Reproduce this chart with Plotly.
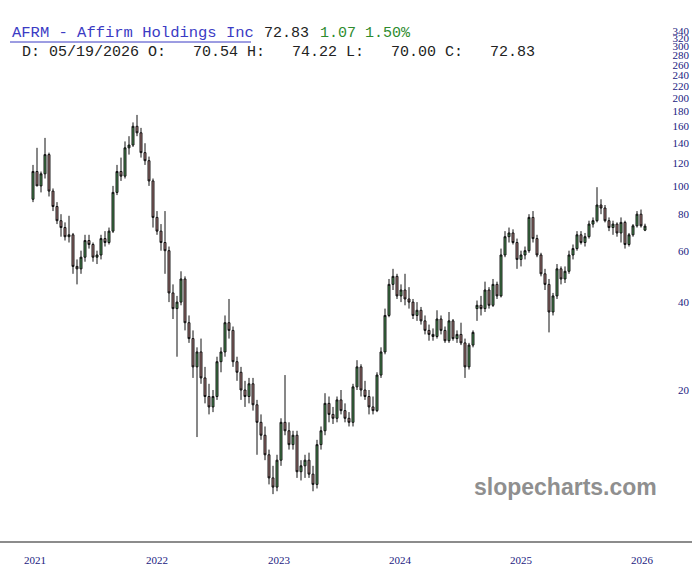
import plotly.graph_objects as go

# Weekly-ish OHLC readings (index-based x, one candle per bar)
opens = [90, 112, 100, 110, 128, 96, 85, 76, 72, 67,
         68, 53, 52, 57, 65, 63, 57, 58, 66, 64,
         70, 95, 112, 108, 135, 138, 160, 152, 130, 122,
         104, 78, 70, 64, 60, 43, 38, 40, 48, 34,
         30, 24, 27, 22, 19, 17.5, 19, 25, 27, 34,
         32, 25, 23, 20, 19, 21, 17.8, 15.5, 14, 12,
         10, 9.3, 11.5, 15.5, 14.5, 13, 14, 10.5, 11, 11.5,
         10.3, 9.5, 13, 14.5, 18, 16.5, 16, 18.5, 17, 16,
         15.5, 20.5, 24, 20, 19, 17.5, 17, 22.5, 27, 36,
         46, 49, 42, 44, 41, 40, 36, 37.5, 34.5, 32,
         31, 30.5, 35, 32, 29.5, 34.5, 30, 31, 29, 24,
         28.5, 38, 39, 38, 44, 39, 46, 42, 58, 67,
         69, 64, 56, 58, 60, 78, 66, 58, 50, 46,
         37, 42, 52, 48, 51, 58, 61, 68, 64, 67,
         74, 76, 86, 84, 76, 72, 74, 69, 75, 63,
         68, 73, 80, 70.54]
highs = [118, 135, 112, 146, 130, 98, 88, 80, 75, 79,
         69, 56, 60, 68, 68, 64, 60, 68, 70, 72,
         100, 118, 125, 142, 148, 165, 175, 158, 140, 126,
         106, 82, 74, 82, 62, 46, 42, 51, 49, 36,
         32, 28, 30, 24, 21, 20, 26, 28, 36, 41,
         33, 26, 24, 21.5, 22, 22, 18.5, 16.5, 15, 12.5,
         11, 12, 16, 22.5, 15.5, 14.5, 14.5, 11.5, 12, 12.2,
         11, 13.5, 15, 19.5, 19, 17.5, 19, 20, 18, 16.8,
         21, 25.3, 24.5, 21.5, 20, 19, 23, 28, 38, 48,
         52, 50, 46, 50, 45, 41, 40, 38.5, 36, 33.5,
         32.5, 37.5, 36, 33, 37, 35, 32, 34, 30, 29,
         32, 40.5, 42, 47, 45, 48, 47, 61, 70, 72,
         71, 66, 60, 62, 80, 82, 68, 59, 52, 48,
         43, 54, 53, 53, 60, 63, 70, 70, 69, 76,
         78, 99, 90, 86, 78, 76, 75, 78, 76, 69,
         74, 82, 83, 74.22]
lows = [88, 100, 95, 106, 92, 82, 74, 67, 65, 64,
        50, 46, 50, 55, 61, 55, 54, 56, 62, 63,
        69, 93, 104, 106, 128, 136, 148, 125, 118, 100,
        72, 68, 60, 50, 40, 35, 26, 39, 32, 29,
        22, 13.8, 21, 18, 16.5, 16.8, 18.5, 23, 26, 30,
        24, 21.5, 18.5, 17.5, 18, 17, 12, 13.5, 11.5, 9.5,
        8.8, 9, 11, 14, 12.5, 12.5, 10, 9.8, 10, 10,
        9, 9.2, 12.5, 14, 15.5, 15.3, 15.5, 16.5, 15.5, 15,
        15, 20, 19, 18.5, 16.5, 16.5, 16.8, 22, 26.5, 35.5,
        44, 41, 40, 39, 38, 35, 34.5, 33.5, 31, 29.5,
        29.5, 30, 31, 29, 29, 29.5, 29, 28.5, 22, 23.5,
        28, 34.5, 36, 37, 38, 38.5, 41, 41.5, 57, 64,
        63, 52, 53, 56, 59, 64, 57, 49, 44, 31.5,
        36, 41, 46, 46.5, 50, 56, 60, 63, 62, 66,
        72, 75, 80, 75, 70, 68, 67, 64, 61, 62,
        67, 72, 72, 70.00]
closes = [112, 100, 110, 128, 96, 85, 76, 72, 67, 68,
          53, 52, 57, 65, 63, 57, 58, 66, 64, 70,
          95, 112, 108, 135, 138, 160, 152, 130, 122, 104,
          78, 70, 64, 60, 43, 38, 40, 48, 34, 30,
          24, 27, 22, 19, 17.5, 19, 25, 27, 34, 32,
          25, 23, 20, 19, 21, 17.8, 15.5, 14, 12, 10,
          9.3, 11.5, 15.5, 14.5, 13, 14, 10.5, 11, 11.5, 10.3,
          9.5, 13, 14.5, 18, 16.5, 16, 18.5, 17, 16, 15.5,
          20.5, 24, 20, 19, 17.5, 17, 22.5, 27, 36, 46,
          49, 42, 44, 41, 40, 36, 37.5, 34.5, 32, 31,
          30.5, 35, 32, 29.5, 34.5, 30, 31, 29, 24, 28.5,
          31.5, 39, 38, 44, 39, 46, 42, 58, 67, 69,
          64, 56, 58, 60, 78, 66, 58, 50, 46, 37,
          42, 52, 48, 51, 58, 61, 68, 64, 67, 74,
          76, 86, 84, 76, 72, 74, 69, 75, 63, 68,
          73, 80, 73, 72.83]

year_labels = ["2021", "2022", "2023", "2024", "2025", "2026"]
year_positions = [0.5, 31, 61.5, 91.75, 122, 152.25]   # bar index where each year label sits
price_ticks = [20, 40, 60, 80, 100, 120, 140, 160, 180, 200,
               220, 240, 260, 280, 300, 320, 340]

idx = list(range(len(closes)))

fig = go.Figure()
fig.add_trace(go.Candlestick(
    x=idx, open=opens, high=highs, low=lows, close=closes,
    increasing=dict(line=dict(color="#111111", width=1), fillcolor="#4f9f5a"),
    decreasing=dict(line=dict(color="#111111", width=1), fillcolor="#b98585"),
    whiskerwidth=0, showlegend=False, hoverinfo="skip",
))

W, H = 692, 581
bottom = 541
fig.update_layout(
    width=W, height=H,
    margin=dict(l=0, r=0, t=0, b=H - bottom),
    paper_bgcolor="white", plot_bgcolor="white",
    xaxis=dict(
        range=[-8.25, 164.75], rangeslider=dict(visible=False),
        tickmode="array", tickvals=year_positions, ticktext=year_labels,
        showgrid=False, zeroline=False, ticks="",
        showline=True, linecolor="#8c8c8c", linewidth=2,
        tickfont=dict(family="Liberation Serif", size=11, color="#1a1a80"),
        ticklabelstandoff=8,
    ),
    yaxis=dict(
        type="log", side="right", range=[0.78391, 2.63665],
        tickmode="array", tickvals=price_ticks, ticktext=[str(v) for v in price_ticks],
        ticklabelposition="inside", ticks="",
        showgrid=False, zeroline=False, showline=False,
        tickfont=dict(family="Liberation Serif", size=11, color="#1a1a80"),
    ),
)

def px_x(p):
    return p / W

def px_y(p):
    return (bottom - p) / bottom

mono = "Liberation Mono"
header_parts = [
    ("AFRM - Affirm Holdings Inc", 10, "#3b3bc4", 15.5),
    ("72.83", 262, "#222222", 15),
    ("1.07 1.50%", 318, "#2e8b2e", 15),
]
for txt, xpos, col, fs in header_parts:
    fig.add_annotation(
        xref="paper", yref="paper", x=px_x(xpos), y=px_y(33), xanchor="left", yanchor="middle",
        showarrow=False, text=txt.replace(" ", "\u00a0"),
        font=dict(family=mono, size=fs, color=col),
    )
fig.add_annotation(
    xref="paper", yref="paper", x=px_x(11), y=px_y(52), xanchor="left", yanchor="middle",
    showarrow=False,
    text="\u00a0D:\u00a005/19/2026\u00a0O:\u00a0\u00a0\u00a070.54\u00a0H:\u00a0\u00a0\u00a074.22\u00a0L:\u00a0\u00a0\u00a070.00\u00a0C:\u00a0\u00a0\u00a072.83",
    font=dict(family=mono, size=15, color="#222222"),
)
fig.add_shape(type="line", xref="paper", yref="paper",
              x0=px_x(10), x1=px_x(251), y0=px_y(42), y1=px_y(42),
              line=dict(color="#3b3bc4", width=1))
fig.add_annotation(
    xref="paper", yref="paper", x=px_x(565), y=px_y(487), xanchor="center", yanchor="middle",
    showarrow=False, text="<b>slopecharts.com</b>",
    font=dict(family="Liberation Sans", size=23, color="#8f8f8f"),
)

fig.write_html("out.html", config={"displayModeBar": False},
               post_script="document.body.style.margin='0';document.body.style.overflow='hidden';")
